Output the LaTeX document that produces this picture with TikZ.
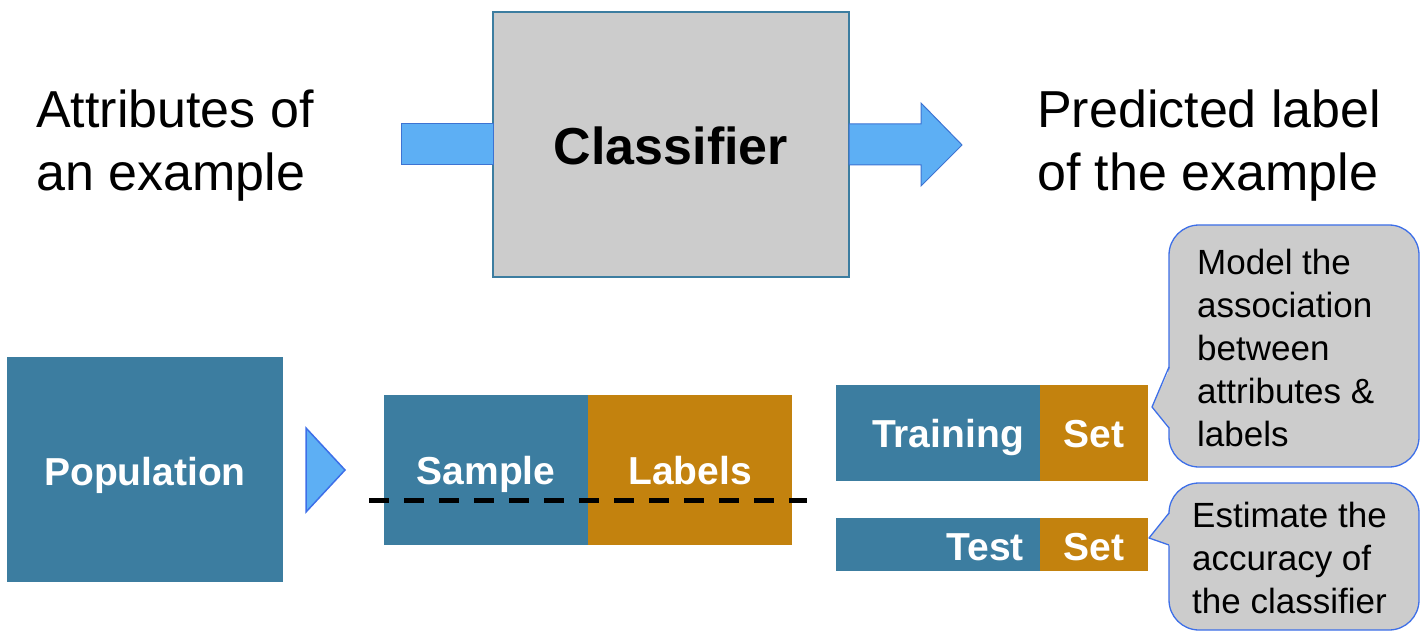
\documentclass[tikz,border=0pt]{standalone}
\usepackage{fontspec}
\setmainfont{Liberation Sans}
\definecolor{myteal}{HTML}{3C7DA0}
\definecolor{myorange}{HTML}{C3820E}
\definecolor{myblue}{HTML}{5DAFF4}
\definecolor{myedge}{HTML}{3D6FE8}
\definecolor{mygray}{HTML}{CCCCCC}
\begin{document}
\begin{tikzpicture}[x=1pt,y=-1pt,
  box/.style={inner sep=0pt, outer sep=0pt, anchor=north west},
  tealbox/.style={box, fill=myteal},
  orangebox/.style={box, fill=myorange},
  wtext/.style={text=white, font=\fontsize{39}{47}\selectfont\bfseries, inner sep=0pt},
  bigtext/.style={font=\fontsize{52}{63}\selectfont, align=left, inner sep=0pt, anchor=base west},
  calltext/.style={font=\fontsize{35}{43}\selectfont, align=left, inner sep=0pt, anchor=base west},
  callbox/.style={box, fill=mygray, draw=myedge, line width=1.3pt, rounded corners=30pt},
  blockarrow/.style={fill=myblue, draw=myedge!70!myteal, line width=1pt}
]
\useasboundingbox (0,0) rectangle (1426,636);

% top row
\node[box, fill=mygray, draw=myteal, line width=1.3pt, minimum width=356, minimum height=265] (cls) at (493,12) {};
\node[font=\fontsize{52}{63}\selectfont\bfseries, anchor=base, inner sep=0pt] (clst) at (671,165) {Classifier};
\node[bigtext] (attr) at (36,191) {Attributes of\\an example};
\node[bigtext] (pred) at (1037,191) {Predicted label\\of the example};

\draw[blockarrow] (401,124) -- (cls.west |- 0,124) -- (cls.west |- 0,165) -- (401,165) -- cycle;
\draw[blockarrow] (cls.east |- 0,124) -- (921,124) -- (921,103) -- (962,145) -- (921,186) -- (921,165) -- (cls.east |- 0,165) -- cycle;

% bottom row
\node[tealbox, minimum width=276, minimum height=225] (pop) at (7,357) {};
\node[wtext, anchor=base] (popt) at (145,485) {Population};
\draw[fill=myblue, draw=myedge, line width=1.5pt] (306,428) -- (345,470) -- (306,512) -- cycle;

\node[tealbox, minimum width=204, minimum height=150] (samp) at (384,395) {};
\node[orangebox, minimum width=204, minimum height=150] (lab) at (588,395) {};
\node[wtext, anchor=base] (sampt) at (486,484) {Sample};
\node[wtext, anchor=base] (labt) at (690,484) {Labels};
\coordinate (d1) at (369,500);
\coordinate (d2) at (807,500);
\draw[line width=5pt, dash pattern=on 20pt off 15pt] (d1) -- (d2);

\node[tealbox, minimum width=204, minimum height=96] (tr) at (836,385) {};
\node[orangebox, minimum width=108, minimum height=96] (trs) at (1040,385) {};
\node[wtext, anchor=base east] (trt) at (1024,447) {Training};
\node[wtext, anchor=base] (trst) at (1094,447) {Set};

\node[tealbox, minimum width=204, minimum height=53] (te) at (836,518) {};
\node[orangebox, minimum width=108, minimum height=53] (tes) at (1040,518) {};
\node[wtext, anchor=base east] (tet) at (1024,560) {Test};
\node[wtext, anchor=base] (test) at (1094,560) {Set};

% callouts
\node[callbox, minimum width=250, minimum height=242] (c1) at (1169,225) {};
\fill[mygray] (1171,366) -- (1152,407) -- (1171,429) -- cycle;
\draw[myedge, line width=1.3pt, line join=round] (1169,367) -- (1152,407) -- (1169,428);
\node[calltext] (c1t) at (1197,446) {Model the\\association\\between\\attributes \&\\labels};

\node[callbox, minimum width=250, minimum height=147] (c2) at (1169,483) {};
\fill[mygray] (1171,512) -- (1149,538) -- (1171,546) -- cycle;
\draw[myedge, line width=1.3pt, line join=round] (1169,513) -- (1149,538) -- (1169,545);
\node[calltext] (c2t) at (1192,613) {Estimate the\\accuracy of\\the classifier};
\end{tikzpicture}
\end{document}
